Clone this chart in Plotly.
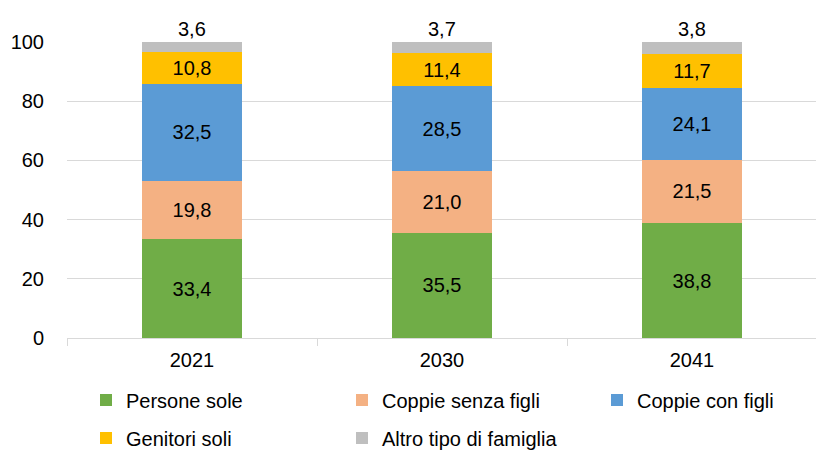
import plotly.graph_objects as go

years = ["2021", "2030", "2041"]
persone_sole = [33.4, 35.5, 38.8]
coppie_senza = [19.8, 21.0, 21.5]
coppie_con = [32.5, 28.5, 24.1]
genitori_soli = [10.8, 11.4, 11.7]
altro = [3.6, 3.7, 3.8]

series = [
    ("Persone sole", persone_sole, "#70AD47"),
    ("Coppie senza figli", coppie_senza, "#F4B183"),
    ("Coppie con figli", coppie_con, "#5B9BD5"),
    ("Genitori soli", genitori_soli, "#FFC000"),
    ("Altro tipo di famiglia", altro, "#BFBFBF"),
]

FS = 20
Y_MAX = 100
# page has an 8px body margin; figure is sized to fit the window
W, H = 816, 442
ML, MR, MT, MB = 59, 7, 34, 112
PW = W - ML - MR
PH = H - MT - MB

def fmt(v):
    return f"{v:.1f}".replace(".", ",")

# legend slots (pixel x of legend box, pixel y of row centre), in figure px
legend_slots = [(78, 392), (334, 392), (589, 392), (78, 430), (334, 430)]
legend_names = ["legend"] + [f"legend{i}" for i in range(2, len(series) + 1)]

fig = go.Figure()
for i, (name, vals, col) in enumerate(series):
    last = i == len(series) - 1
    fig.add_trace(go.Bar(
        x=years, y=vals, name=name, legend=legend_names[i], showlegend=True,
        marker=dict(color=col, line=dict(width=0)),
        text=None if last else [fmt(v) for v in vals],
        textposition="none" if last else "inside",
        insidetextanchor="middle",
        textangle=0,
        constraintext="none",
        insidetextfont=dict(color="#000000", size=FS),
    ))

# label of the top segment sits just above the (100%) stack
totals = [sum(s[1][j] for s in series) for j in range(len(years))]
annotations = [
    dict(x=j, y=min(totals[j], Y_MAX), xref="x", yref="y", text=fmt(altro[j]),
         showarrow=False, yanchor="bottom", yshift=0,
         font=dict(color="#000000", size=FS))
    for j in range(len(years))
]

layout_legends = {}
for i, ln in enumerate(legend_names):
    px, py = legend_slots[i]
    layout_legends[ln] = dict(
        orientation="h", xanchor="left", yanchor="middle",
        x=(px - ML) / PW, y=((MT + PH) - py) / PH,
        font=dict(size=FS), itemwidth=30,
        bgcolor="rgba(0,0,0,0)", visible=True,
    )

fig.update_layout(
    barmode="stack",
    bargap=0.6,
    showlegend=True,
    width=W, height=H,
    margin=dict(l=ML, r=MR, t=MT, b=MB, autoexpand=False),
    paper_bgcolor="white", plot_bgcolor="white",
    font=dict(family="Liberation Sans, Arial, sans-serif", size=FS, color="#000000"),
    annotations=annotations,
    xaxis=dict(
        type="category", range=[-0.5, len(years) - 0.5], autorange=False,
        categoryorder="array", categoryarray=years,
        showline=True, linecolor="#D9D9D9", linewidth=1,
        ticks="outside", tickson="boundaries", ticklen=7, tickcolor="#D9D9D9",
        tickfont=dict(size=FS), ticklabelstandoff=4, tickangle=0,
    ),
    yaxis=dict(
        range=[0, Y_MAX], dtick=20, showgrid=True, gridcolor="#D9D9D9", gridwidth=1,
        zeroline=False, showline=False, ticks="", tickfont=dict(size=FS),
        ticklabelstandoff=22,
    ),
    **layout_legends,
)

fig.write_html("out.html")
